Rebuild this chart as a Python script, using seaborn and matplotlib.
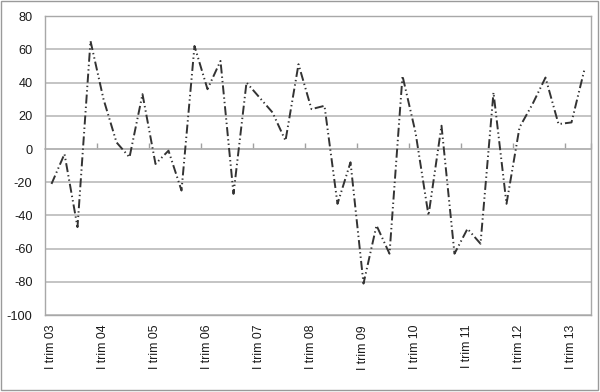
import numpy as np
import pandas as pd
import matplotlib
matplotlib.use("Agg")
import matplotlib.pyplot as plt
from matplotlib.patches import Rectangle
import seaborn as sns

# quarterly values, I trim 03 .. II trim 13
quarters = ["I", "II", "III", "IV"]
years = ["03", "04", "05", "06", "07", "08", "09", "10", "11", "12", "13"]
categories = [f"{q} trim {y}" for y in years for q in quarters][:42]
values = [-21, -3, -47, 65, 30, 4, -5, 33, -9, -1,
          -25, 62, 36, 53, -27, 40, 31, 22, 5, 51,
          24, 26, -33, -8, -81, -46, -63, 44, 10, -40,
          14, -63, -48, -57, 34, -33, 13, 27, 43, 15,
          16, 48]
y_ticks = [-100, -80, -60, -40, -20, 0, 20, 40, 60, 80]

df = pd.DataFrame({"pos": np.arange(len(values)), "cat": categories, "val": values})

sns.set_style("white")
plt.rcParams["font.family"] = ["Liberation Sans", "DejaVu Sans"]
plt.rcParams["lines.scale_dashes"] = False

fig = plt.figure(figsize=(6.0, 3.92), dpi=100)
ax = fig.add_axes([0.075, 0.196, 0.91, 0.763])

grid_col = "#b4b4b4"
for y in y_ticks:
    ax.axhline(y, color=grid_col, lw=1.1, zorder=0)

sns.lineplot(data=df, x="pos", y="val", ax=ax, color="#333333", lw=1.4,
             linestyle=(0, (6.5, 2.2, 1, 2.2, 1, 2.2)), zorder=3)

ax.set_xlim(-0.5, len(values) - 0.5)
ax.set_ylim(-100, 80)
ax.set_yticks(y_ticks)
ax.set_yticklabels([str(v) for v in y_ticks], fontsize=9.2, color="#1a1a1a")

label_pos = list(range(0, len(values), 4))
ax.set_xticks(label_pos)
ax.set_xticklabels([categories[i] for i in label_pos], rotation=90, fontsize=8.8,
                   color="#1a1a1a")
ax.tick_params(axis="x", length=0, pad=7)
ax.tick_params(axis="y", length=4, width=1, color="#a0a0a0", direction="out", pad=5)
ax.set_xlabel("")
ax.set_ylabel("")

for s in ax.spines.values():
    s.set_color("#a8a8a8")
    s.set_linewidth(1)

# category tick marks on the zero line
sec = ax.secondary_xaxis(100 / 180)
sec.set_xticks([p + 3.5 for p in label_pos[:-1]] + [len(values) - 0.5])
sec.set_xticklabels([])
sec.tick_params(axis="x", length=4, width=1, color="#a0a0a0", direction="out")
for s in sec.spines.values():
    s.set_color(grid_col)
    s.set_linewidth(1.1)

fig.patches.append(Rectangle((0.002, 0.004), 0.995, 0.993, transform=fig.transFigure,
                             fill=False, edgecolor="#9a9a9a", lw=1))

fig.savefig("out.png", dpi=100)
